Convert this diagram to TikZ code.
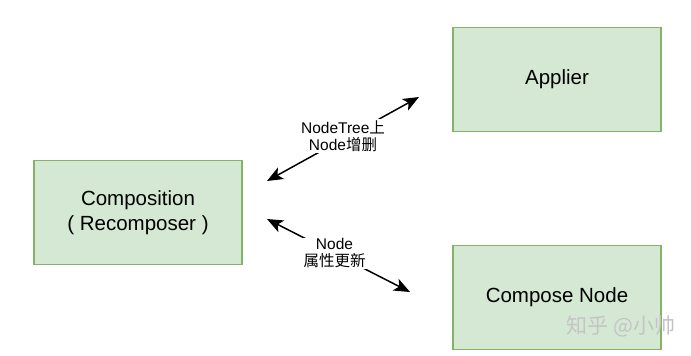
\documentclass[tikz,border=0pt]{standalone}
\usepackage{fontspec}
\setmainfont{Liberation Sans}
\newfontfamily\cjk{Noto Sans CJK SC}
\usetikzlibrary{arrows.meta}
\definecolor{boxfill}{HTML}{D5E8D4}
\definecolor{boxline}{HTML}{82B366}
\definecolor{mark}{HTML}{C4C4C4}

\begin{document}
\begin{tikzpicture}[
  x=1pt, y=-1pt,
  font=\fontsize{20.5}{25}\selectfont,
  blk/.style={draw=boxline, fill=boxfill, line width=1.8pt, minimum width=208pt, minimum height=104pt, align=center, inner sep=0pt},
  lbl/.style={fill=white, align=center, inner sep=1pt, font=\fontsize{15.5}{17}\selectfont},
  link/.style={{Stealth[length=16pt,width=13pt,inset=4pt]}-{Stealth[length=16pt,width=13pt,inset=4pt]}, line width=1.5pt},
]
\useasboundingbox (0,0) rectangle (691,356);

\node[blk] (comp) at (138,212.5) {Composition\\( Recomposer )};
\node[blk] (appl) at (557,79.5) {Applier};
\node[blk] (cnode) at (557,297.5) {Compose Node};

% arrow ends
\coordinate (a1) at (267,181);
\coordinate (a2) at (419,97);
\coordinate (b1) at (267,219);
\coordinate (b2) at (410,292);

\draw[link] (a1) -- (a2) node[lbl, midway, yshift=3pt] {NodeTree{\cjk 上}\\Node{\cjk 增删}};
\draw[link] (b1) -- (b2) node[lbl, midway, xshift=-4pt, yshift=2pt] {Node\\{\cjk 属性更新}};

\node[text=mark, font=\cjk\fontsize{21}{21}\selectfont, anchor=west] (wm) at (563,326) {知乎 @小帅};

\end{tikzpicture}
\end{document}
